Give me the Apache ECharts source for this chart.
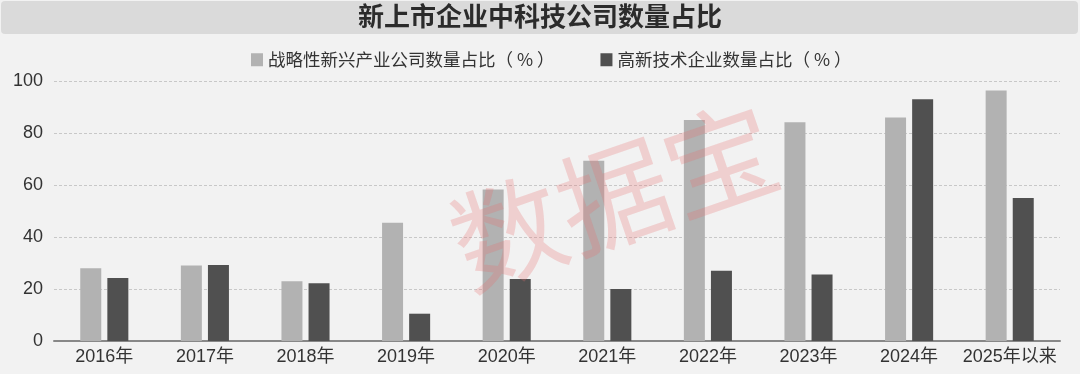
<!DOCTYPE html>
<html><head><meta charset="utf-8">
<script src="https://cdn.jsdelivr.net/npm/echarts@6/dist/echarts.min.js"></script>
<style>html,body{margin:0;padding:0;background:#f2f2f2;}#c{width:1080px;height:374px;}</style>
</head><body><div id="c"></div>
<script>
const categories = ['2016年','2017年','2018年','2019年','2020年','2021年','2022年','2023年','2024年','2025年以来'];
const strategicShare = [28, 29, 23, 45.5, 58.3, 69.3, 85, 84.1, 86, 96.3];
const hiTechShare = [24.2, 29.2, 22.2, 10.5, 23.8, 20, 27, 25.6, 93, 55];
const seriesNames = ['战略性新兴产业公司数量占比（ % ）', '高新技术企业数量占比（ % ）'];
const yTicks = [0, 20, 40, 60, 80, 100];
const titleText = '新上市企业中科技公司数量占比';
const watermark = '数据宝';

const font = '"Noto Sans CJK SC", "Noto Sans", sans-serif';
const axisFont = '"Liberation Sans", "Noto Sans CJK SC", sans-serif';
const chart = echarts.init(document.getElementById('c'), null, {renderer: 'canvas'});
chart.setOption({
  backgroundColor: '#f2f2f2',
  animation: false,
  textStyle: {fontFamily: font},
  graphic: [
    {type: 'rect', left: 1, top: 1, z: 0, shape: {width: 1077, height: 33, r: 4}, style: {fill: '#dadada'}},
    {type: 'text', left: 'center', top: 3, z: 1, style: {text: titleText, fontSize: 26, fontWeight: 'bold', fill: '#2b2b2b', fontFamily: font}},
    {type: 'text', x: 614, y: 196, rotation: 19 * Math.PI / 180, z: 100, silent: true,
      style: {text: watermark, fontSize: 112, fill: 'rgba(232,110,110,0.26)', fontFamily: font, align: 'center', verticalAlign: 'middle'}}
  ],
  legend: {
    top: 46, left: 246, itemWidth: 12, itemHeight: 13, itemGap: 46,
    icon: 'rect',
    textStyle: {fontSize: 17.5, color: '#333', fontFamily: font},
    data: seriesNames
  },
  grid: {left: 54, right: 20, top: 81, bottom: 33},
  xAxis: {
    type: 'category', data: categories,
    axisLine: {lineStyle: {color: '#888', width: 2}},
    axisTick: {show: false},
    axisLabel: {fontSize: 18, color: '#333', margin: 7, fontFamily: axisFont, interval: 0}
  },
  yAxis: {
    type: 'value', min: yTicks[0], max: yTicks[yTicks.length - 1], interval: 20,
    axisLine: {show: false}, axisTick: {show: false},
    axisLabel: {fontSize: 18, color: '#333', margin: 11, fontFamily: axisFont},
    splitLine: {lineStyle: {color: '#c8c8c8', type: [3, 2], width: 1}}
  },
  series: [
    {name: seriesNames[0], type: 'bar', data: strategicShare, barWidth: 21, barGap: '29%', itemStyle: {color: '#b2b2b2'}},
    {name: seriesNames[1], type: 'bar', data: hiTechShare, barWidth: 21, itemStyle: {color: '#505050'}}
  ]
});
</script></body></html>
